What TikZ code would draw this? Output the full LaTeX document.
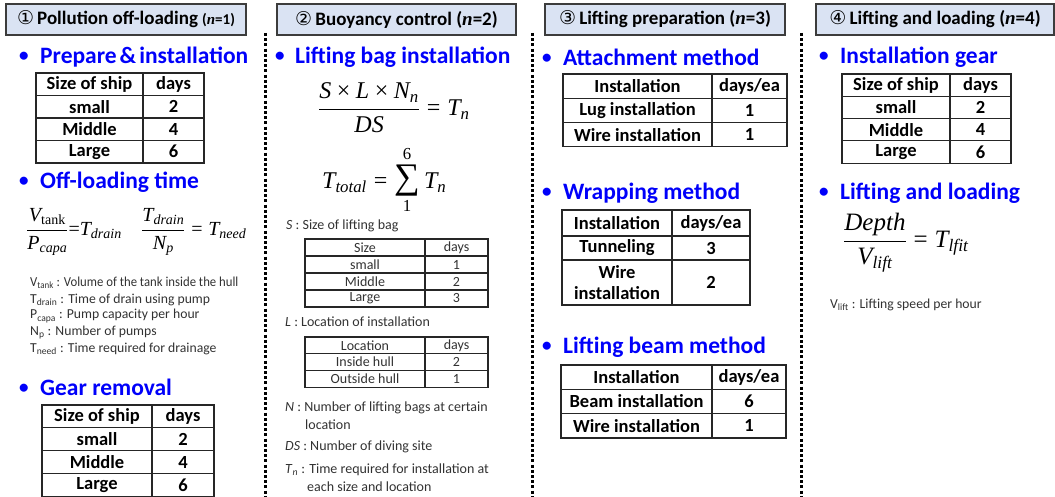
\documentclass[tikz,border=0pt]{standalone}
\usepackage{amsmath}
\usepackage{fontspec}
\setmainfont{Carlito}
\newfontfamily\circfont{DejaVu Sans}
\newfontfamily\tms{Liberation Serif}
\newcommand\mi[1]{\text{\tms\itshape #1}}
\newcommand\mr[1]{\text{\tms #1}}
\newcommand\meq{\mathrel{\mr{=}}}
\newcommand\mtimes{\mathbin{\mr{×}}}
\newcommand\bigsum{\mathop{\text{\tms\fontsize{36}{36}\selectfont ∑}}\limits}
\newcommand\bul[1][22pt]{\makebox[#1][l]{\hspace{1pt}\raisebox{1.5pt}{\fontsize{19}{19}\selectfont•}}}
\definecolor{hdrfill}{RGB}{218,227,243}
\definecolor{hdrline}{RGB}{60,60,60}
\definecolor{topicblue}{RGB}{0,0,250}
\definecolor{notegray}{RGB}{50,50,50}

\tikzset{
  hdr/.style={draw=hdrline, fill=hdrfill, line width=1.3pt, inner sep=0pt},
  hdrtext/.style={font=\fontsize{19}{22}\selectfont\bfseries, inner sep=0pt},
  topic/.style={font=\fontsize{23.5}{27}\selectfont\bfseries, text=topicblue, anchor=west, inner sep=0pt},
  tbl/.style={draw=black!85, line width=1.2pt},
  cellb/.style={font=\fontsize{18.5}{22}\selectfont\bfseries, inner sep=0pt, align=center},
  celln/.style={font=\fontsize{14}{17}\selectfont, text=notegray, inner sep=0pt},
  notetext/.style={font=\fontsize{14}{17}\selectfont, text=notegray, anchor=west, inner sep=0pt},
  legend/.style={font=\fontsize{13.7}{16}\selectfont, text=notegray, anchor=west, inner sep=0pt},
  formula/.style={anchor=west, inner sep=0pt},
  sep/.style={line width=3pt, dash pattern=on 3pt off 2.2pt},
}

% two-column table: name, x-left, x-divider, x-right, y-top, row height, cell style, rows
\newcommand\gentable[8]{%
  \foreach \a/\b [count=\k from 0] in {#8} {
    \draw[tbl] (#2,{#5+\k*#6}) rectangle (#4,{#5+(\k+1)*#6});
    \draw[tbl] (#3,{#5+\k*#6}) -- (#3,{#5+(\k+1)*#6});
    \node[#7] (#1-l\k) at ({(#2+#3)/2},{#5+(\k+0.5)*#6}) {\a};
    \node[#7] (#1-r\k) at ({(#3+#4)/2},{#5+(\k+0.5)*#6}) {\b};
  }%
}

\begin{document}
\begin{tikzpicture}[x=1pt,y=-1pt]
\useasboundingbox (0,0) rectangle (1055,497);

% ---------- dotted column separators ----------
\coordinate (s1a) at (265,33);  \coordinate (s1b) at (265,497);
\coordinate (s2a) at (532,33);  \coordinate (s2b) at (532,497);
\coordinate (s3a) at (801,33);  \coordinate (s3b) at (801,497);
\draw[sep] (s1a) -- (s1b);
\draw[sep] (s2a) -- (s2b);
\draw[sep] (s3a) -- (s3b);

% ---------- column headers ----------
\node[hdr, minimum width=240pt, minimum height=31pt] (h1) at (126,19.5) {};
\node[hdrtext] (h1t) at (h1) {{\circfont\mdseries ①}\,Pollution off-loading {\fontsize{15}{18}\selectfont({\tms\itshape n}=1)}};
\node[hdr, minimum width=239pt, minimum height=31pt] (h2) at (396.5,19.5) {};
\node[hdrtext] (h2t) at (h2) {{\circfont\mdseries ②}\,Buoyancy control ({\tms\itshape n}=2)};
\node[hdr, minimum width=240pt, minimum height=31pt] (h3) at (665,19.5) {};
\node[hdrtext] (h3t) at (h3) {{\circfont\mdseries ③}\,Lifting preparation ({\tms\itshape n}=3)};
\node[hdr, minimum width=238pt, minimum height=31pt] (h4) at (935,19.5) {};
\node[hdrtext] (h4t) at (h4) {{\circfont\mdseries ④}\,Lifting and loading ({\tms\itshape n}=4)};

% ================= column 1 =================
\node[topic] (c1a) at (18,57) {\bul Prepare\hspace{3pt}\&\hspace{3pt}installation};
\gentable{t1}{36}{143}{204}{73}{22.5}{cellb}{Size of ship/days, small/2, Middle/4, Large/6}

\node[topic] (c1b) at (18,182) {\bul Off-loading time};
\node[formula, font=\fontsize{20}{24}\selectfont] (f1a) at (26,232)
  {$\displaystyle\frac{\mi{V}_{\mr{tank}}}{\mi{P}_{\mi{capa}}}{\meq}\mi{T}_{\mi{drain}}$};
\node[formula, font=\fontsize{20}{24}\selectfont] (f1b) at (141,232)
  {$\displaystyle\frac{\mi{T}_{\mi{drain}}}{\mi{N}_{\mi{p}}}\meq\mi{T}_{\mi{need}}$};

\node[legend] (l1) at (30,283) {\scalebox{0.93}[1]{V\textsubscript{tank} : Volume of the tank inside the hull}};
\node[legend] (l2) at (30,299.5) {T\textsubscript{drain} : Time of drain using pump};
\node[legend] (l3) at (30,316) {P\textsubscript{capa} : Pump capacity per hour};
\node[legend] (l4) at (30,332.5) {N\textsubscript{p} : Number of pumps};
\node[legend] (l5) at (30,349) {T\textsubscript{need} : Time required for drainage};

\node[topic] (c1c) at (18,387) {\bul Gear removal};
\gentable{t2}{42}{152}{214}{405}{22.8}{cellb}{Size of ship/days, small/2, Middle/4, Large/6}

% ================= column 2 =================
\node[topic] (c2a) at (274,57) {\bul[21pt]Lifting bag installation};
\node[formula, font=\fontsize{24}{28}\selectfont] (f2a) at (318,108)
  {$\displaystyle\frac{\mi{S}\mtimes\mi{L}\mtimes\mi{N}_{\mi{n}}}{\mi{DS}}\meq\mi{T}_{\mi{n}}$};
\node[formula, font=\fontsize{24}{28}\selectfont] (f2b) at (322,180)
  {$\displaystyle \mi{T}_{\mi{total}}\meq\bigsum_{\mr{1}}^{\mr{6}}\mi{T}_{\mi{n}}$};

\node[notetext] (n1) at (286,226) {\textit{S} : Size of lifting bag};
\gentable{t3}{305}{425}{488}{239}{17}{celln}{Size/days, small/1, Middle/2, Large/3}
\node[notetext] (n2) at (285,322) {\textit{L} : Location of installation};
\gentable{t4}{305}{425}{488}{337}{16.7}{celln}{Location/days, Inside hull/2, Outside hull/1}
\node[notetext] (n3) at (285,408) {\textit{N} : Number of lifting bags at certain};
\node[notetext] (n3b) at (305,425) {location};
\node[notetext] (n4) at (285,447) {\textit{DS} : Number of diving site};
\node[notetext] (n5) at (285,470) {\textit{T}\textsubscript{\textit{n}} : Time required for installation at};
\node[notetext] (n5b) at (307,487) {each size and location};

% ================= column 3 =================
\node[topic] (c3a) at (541,57) {\bul Attachment method};
\gentable{t5}{563}{712}{787}{74}{24.3}{cellb}{Installation/{days/ea}, Lug installation/1, Wire installation/1}

\node[topic] (c3b) at (541,193) {\bul Wrapping method};
\draw[tbl] (562,210) rectangle (750,305);
\draw[tbl] (562,236) -- (750,236);
\draw[tbl] (562,260) -- (750,260);
\draw[tbl] (672,210) -- (672,305);
\node[cellb] (t6-l0) at (617,223) {Installation};
\node[cellb] (t6-r0) at (711,223) {days/ea};
\node[cellb] (t6-l1) at (617,248) {Tunneling};
\node[cellb] (t6-r1) at (711,248) {3};
\node[cellb, font=\fontsize{18.5}{21.5}\selectfont\bfseries] (t6-l2) at (617,282.5) {Wire\\installation};
\node[cellb] (t6-r2) at (711,282.5) {2};

\node[topic] (c3c) at (541,347) {\bul Lifting beam method};
\gentable{t7}{561}{712}{786}{365}{24.3}{cellb}{Installation/{days/ea}, Beam installation/6, Wire installation/1}

% ================= column 4 =================
\node[topic] (c4a) at (818,57) {\bul Installation gear};
\gentable{t8}{842}{950}{1011}{74}{22.3}{cellb}{Size of ship/days, small/2, Middle/4, Large/6}

\node[topic] (c4b) at (818,193) {\bul Lifting and loading};
\node[formula, font=\fontsize{25}{29}\selectfont] (f4) at (843,243)
  {$\displaystyle\frac{\mi{Depth}}{\mi{V}_{\mi{lift}}}\meq\mi{T}_{\mi{lfit}}$};
\node[legend] (n6) at (830,305) {V\textsubscript{lift} : Lifting speed per hour};

\end{tikzpicture}
\end{document}
